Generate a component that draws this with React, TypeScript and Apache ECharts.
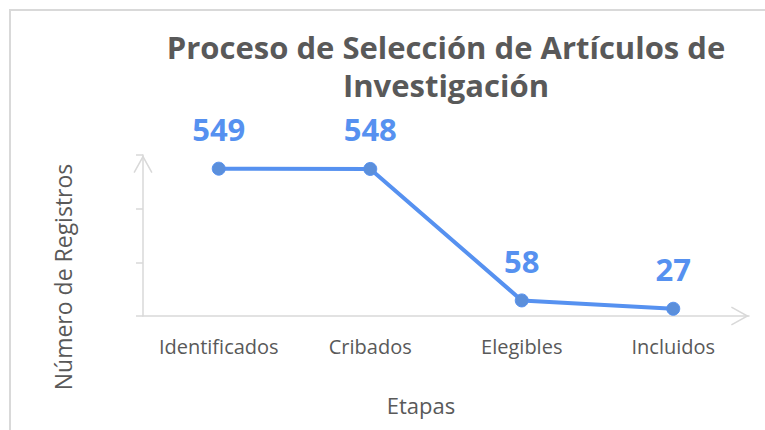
import React, { useEffect, useRef } from "react";
import * as echarts from "echarts";

const categories = ["Identificados", "Cribados", "Elegibles", "Incluidos"];
const values = [549, 548, 58, 27];
const titleText = "Proceso de Selección de Artículos de\nInvestigación";
const xName = "Etapas";
const yName = "Número de Registros";

const AXIS = "#d9d9d9";
const TEXT = "#595959";
const BLUE = "#5691f0";
const FONT = "'Open Sans', 'Noto Sans', sans-serif";
const arrowPath = "path://M0,18 L10,0 L20,18 L18.6,18.8 L10,3.4 L1.4,18.8 Z";

export default function App() {
  const ref = useRef<HTMLDivElement>(null);
  useEffect(() => {
    const chart = echarts.init(ref.current!, null, { renderer: "svg" });
    chart.setOption({
      animation: false,
      backgroundColor: "#ffffff",
      textStyle: { fontFamily: FONT },
      grid: { left: 143, right: 16, top: 155, bottom: 114, containLabel: false },
      xAxis: {
        type: "category",
        data: categories,
        boundaryGap: true,
        axisLine: {
          show: true,
          lineStyle: { color: AXIS, width: 1.5 },
          symbol: ["none", arrowPath],
          symbolSize: [22, 18],
          symbolOffset: [0, -9],
        },
        axisTick: { show: false },
        axisLabel: {
          color: TEXT,
          fontSize: 20,
          margin: 20,
          fontFamily: FONT,
          interval: 0,
          hideOverlap: false,
        },
        splitLine: { show: false },
      },
      yAxis: {
        type: "value",
        min: 0,
        max: 600,
        interval: 200,
        axisLine: {
          show: true,
          lineStyle: { color: AXIS, width: 1.5 },
          symbol: ["none", arrowPath],
          symbolSize: [20, 18],
          symbolOffset: [0, -9],
        },
        axisTick: { show: true, length: 7, lineStyle: { color: AXIS, width: 1.5 } },
        axisLabel: { show: false },
        splitLine: { show: false },
      },
      series: [
        {
          type: "line",
          data: values,
          symbol: "circle",
          symbolSize: 13,
          lineStyle: { color: BLUE, width: 4 },
          itemStyle: { color: "#5b8fdb", borderColor: BLUE, borderWidth: 1 },
          label: {
            show: true,
            position: "top",
            distance: 17,
            color: BLUE,
            fontSize: 31,
            fontWeight: "bold",
            fontFamily: FONT,
          },
        },
      ],
      graphic: [
        {
          type: "rect",
          shape: { x: 10, y: 10, width: 800, height: 460 },
          style: { fill: "none", stroke: AXIS, lineWidth: 2 },
          silent: true,
        },
        {
          type: "text",
          x: 446,
          y: 66,
          style: {
            text: titleText,
            fill: TEXT,
            font: `bold 31px ${FONT}`,
            lineHeight: 38,
            align: "center",
            verticalAlign: "middle",
          },
        },
        {
          type: "text",
          x: 63,
          y: 277,
          rotation: Math.PI / 2,
          style: {
            text: yName,
            fill: TEXT,
            font: `23px ${FONT}`,
            align: "center",
            verticalAlign: "middle",
          },
        },
        {
          type: "text",
          x: 421,
          y: 405,
          style: {
            text: xName,
            fill: TEXT,
            font: `22px ${FONT}`,
            align: "center",
            verticalAlign: "middle",
          },
        },
      ],
    });
    return () => chart.dispose();
  }, []);
  return (
    <div
      ref={ref}
      style={{ position: "fixed", left: 0, top: 0, width: 765, height: 430 }}
    />
  );
}
